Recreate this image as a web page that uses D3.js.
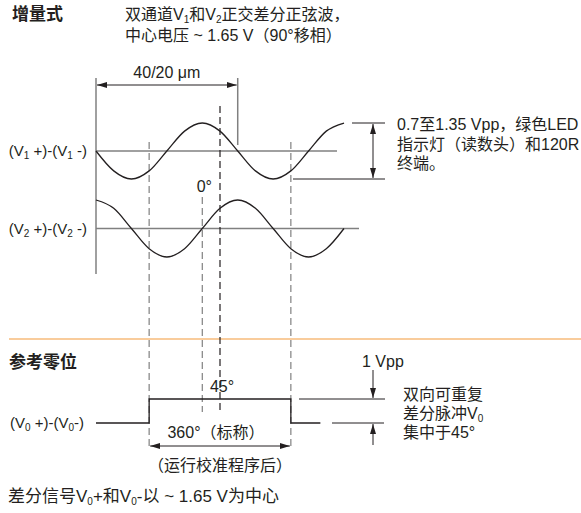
<!DOCTYPE html>
<html>
<head>
<meta charset="utf-8">
<script src="https://cdn.jsdelivr.net/npm/d3@7"></script>
<style>
    body { margin: 0; background: #fff; }
    text { font-family: "Liberation Sans", "Noto Sans CJK SC", sans-serif; fill: #231f20; }
    .heading { font-weight: bold; font-size: 17px; }
    .body { font-size: 16px; }
    .label { font-size: 15px; }
    .foot { font-size: 17px; }
</style>
</head>
<body>
<div id="chart-area"></div>
<script>

const phaseDeg = [-270, -225, -180, -135, -90, -45, 0, 45, 90, 135, 180, 225, 270, 315, 360];
const v1Values = [0, -0.71, -1, -0.71, 0, 0.71, 1, 0.71, 0, -0.71, -1, -0.71, 0, 0.71, 1];
const v2Values = [1, 0.71, 0, -0.71, -1, -0.71, 0, 0.71, 1, 0.71, 0, -0.71, -1, -0.71, 0];

// reference pulse V0 (step after each phase)
const pulseDeg = [-270, -135, 225, 300];
const pulseLevel = [0, 1, 0, 0];

// dashed guide lines
const markerDeg = [-135, 0, 45, 225];
const markerLabels = ["", "0°", "45°", ""];

// dimension spans
const periodSpan = [-270, 90];
const periodLabel = "40/20 μm";
const pulseSpan = [-135, 225];
const pulseSpanLabel = "360°（标称）";

const headings = ["增量式", "参考零位"];
const introLines = [
    [{t: "双通道V"}, {t: "1", sub: true}, {t: "和V"}, {t: "2", sub: true}, {t: "正交差分正弦波，"}],
    [{t: "中心电压 ~ 1.65 V（90°移相）"}]
];
const signalLabels = [
    [{t: "(V"}, {t: "1", sub: true}, {t: " +)-(V"}, {t: "1", sub: true}, {t: " -)"}],
    [{t: "(V"}, {t: "2", sub: true}, {t: " +)-(V"}, {t: "2", sub: true}, {t: " -)"}],
    [{t: "(V"}, {t: "0", sub: true}, {t: " +)-(V"}, {t: "0", sub: true}, {t: "-)"}]
];
const ampNote = ["0.7至1.35 Vpp，绿色LED", "指示灯（读数头）和120R", "终端。"];
const pulseAmpLabel = "1 Vpp";
const pulseNote = [
    [{t: "双向可重复"}],
    [{t: "差分脉冲V"}, {t: "0", sub: true}],
    [{t: "集中于45°"}]
];
const calibNote = "（运行校准程序后）";
const footNote = [{t: "差分信号V"}, {t: "0", sub: true}, {t: "+和V"}, {t: "0", sub: true}, {t: "-以 ~ 1.65 V为中心"}];


class EncoderDiagram {

    constructor(_parentElement) {
        this.parentElement = _parentElement;
        this.initVis();
    }

    initVis() {
        let vis = this;

        vis.width = 581;
        vis.height = 513;

        vis.svg = d3.select("#" + vis.parentElement).append("svg")
            .attr("width", vis.width)
            .attr("height", vis.height);

        let defs = vis.svg.append("defs");
        defs.append("marker")
            .attr("id", "arrow")
            .attr("viewBox", "0 0 10 6")
            .attr("refX", 10).attr("refY", 3)
            .attr("markerWidth", 10).attr("markerHeight", 6)
            .attr("markerUnits", "userSpaceOnUse")
            .attr("orient", "auto-start-reverse")
            .append("path")
            .attr("d", "M0,0 L10,3 L0,6 Z")
            .attr("fill", "#231f20");

        // Scales
        vis.x = d3.scaleLinear().domain([-270, 360]).range([96, 344]);
        vis.yV1 = d3.scaleLinear().domain([-1, 1]).range([179, 123]);
        vis.yV2 = d3.scaleLinear().domain([-1, 1]).range([257, 200]);
        vis.yV0 = d3.scaleLinear().domain([0, 1]).range([423, 399]);

        vis.updateVis();
    }

    line(x1, y1, x2, y2, color, width, dash) {
        let l = this.svg.append("line")
            .attr("x1", x1).attr("y1", y1)
            .attr("x2", x2).attr("y2", y2)
            .attr("stroke", color)
            .attr("stroke-width", width);
        if (dash) l.attr("stroke-dasharray", dash);
        return l;
    }

    richText(parts, x, y, cls, anchor) {
        let t = this.svg.append("text")
            .attr("class", cls)
            .attr("x", x).attr("y", y)
            .attr("text-anchor", anchor || "start");
        let shifted = false;
        parts.forEach(p => {
            if (p.sub) {
                t.append("tspan").attr("dy", 3).style("font-size", "10px").text(p.t);
                shifted = true;
            } else {
                let s = t.append("tspan").text(p.t);
                if (shifted) { s.attr("dy", -3); shifted = false; }
            }
        });
        return t;
    }

    updateVis() {
        let vis = this;
        let x = vis.x;
        const gray = "#808080", ink = "#231f20";

        // section divider
        vis.line(9, 339, 581, 339, "#f39a3a", 1.2);

        // headings and intro
        vis.svg.append("text").attr("class", "heading").attr("x", 12).attr("y", 20).text(headings[0]);
        vis.svg.append("text").attr("class", "heading").attr("x", 9).attr("y", 368).text(headings[1]);
        introLines.forEach((ln, i) => vis.richText(ln, 125, 20 + i * 21, "body"));

        // left axis and zero lines
        vis.line(x(-270), 78, x(-270), 274, gray, 1.5);
        vis.line(x(-270), vis.yV1(0), 337, vis.yV1(0), gray, 1.5);
        vis.line(x(-270), vis.yV2(0), 359, vis.yV2(0), gray, 1.5);

        // dashed markers
        let markerTop = [142, 197, 106, 142];
        let markerBottom = [450, 412, 412, 450];
        markerDeg.forEach((d, i) => {
            vis.line(x(d), markerTop[i], x(d), markerBottom[i], d === 45 ? ink : gray, 1.2, "7,4");
        });
        vis.svg.append("text").attr("class", "body").attr("x", x(markerDeg[1]) + 2).attr("y", 192)
            .attr("text-anchor", "middle").text(markerLabels[1]);
        vis.svg.append("text").attr("class", "body").attr("x", x(markerDeg[2]) + 2).attr("y", 392)
            .attr("text-anchor", "middle").text(markerLabels[2]);

        // period dimension
        vis.line(x(periodSpan[1]), 78, x(periodSpan[1]), vis.yV1(0) - 6, gray, 1.5);
        vis.line(x(periodSpan[0]) + 1, 85, x(periodSpan[1]) - 1, 85, ink, 1)
            .attr("marker-start", "url(#arrow)").attr("marker-end", "url(#arrow)");
        vis.svg.append("text").attr("class", "body")
            .attr("x", (x(periodSpan[0]) + x(periodSpan[1])) / 2).attr("y", 78)
            .attr("text-anchor", "middle").text(periodLabel);

        // sine waves
        let waveData = phaseDeg.map((d, i) => ({deg: d, v1: v1Values[i], v2: v2Values[i]}));
        let wave1 = d3.line().x(d => x(d.deg)).y(d => vis.yV1(d.v1)).curve(d3.curveMonotoneX);
        let wave2 = d3.line().x(d => x(d.deg)).y(d => vis.yV2(d.v2)).curve(d3.curveMonotoneX);
        vis.svg.append("path").datum(waveData).attr("d", wave1)
            .attr("fill", "none").attr("stroke", ink).attr("stroke-width", 1.3);
        vis.svg.append("path").datum(waveData).attr("d", wave2)
            .attr("fill", "none").attr("stroke", ink).attr("stroke-width", 1.3);

        vis.richText(signalLabels[0], 87, vis.yV1(0) + 5, "label", "end");
        vis.richText(signalLabels[1], 87, vis.yV2(0) + 5, "label", "end");

        // amplitude dimension for V1
        vis.line(352, vis.yV1(1), 385, vis.yV1(1), ink, 1);
        vis.line(293, vis.yV1(-1), 385, vis.yV1(-1), ink, 1);
        vis.line(373, vis.yV1(1) + 1, 373, vis.yV1(-1) - 1, ink, 1)
            .attr("marker-start", "url(#arrow)").attr("marker-end", "url(#arrow)");
        ampNote.forEach((s, i) => {
            vis.svg.append("text").attr("class", "body").attr("x", 397).attr("y", 130 + i * 19.5).text(s);
        });

        // reference pulse
        let pulseData = pulseDeg.map((d, i) => ({deg: d, lvl: pulseLevel[i]}));
        let pulseLine = d3.line().x(d => x(d.deg)).y(d => vis.yV0(d.lvl)).curve(d3.curveStepAfter);
        vis.svg.append("path").datum(pulseData).attr("d", pulseLine)
            .attr("fill", "none").attr("stroke", ink).attr("stroke-width", 1.3);
        vis.richText(signalLabels[2], 84, vis.yV0(0) + 5, "label", "end");

        // 1 Vpp dimension
        vis.line(299, vis.yV0(1), 385, vis.yV0(1), ink, 1);
        vis.line(332, vis.yV0(0), 384, vis.yV0(0), ink, 1);
        vis.line(373, 370, 373, vis.yV0(1) - 1, ink, 1).attr("marker-end", "url(#arrow)");
        vis.line(373, 445, 373, vis.yV0(0) + 1, ink, 1).attr("marker-end", "url(#arrow)");
        vis.svg.append("text").attr("class", "body").attr("x", 362).attr("y", 367).text(pulseAmpLabel);
        pulseNote.forEach((ln, i) => vis.richText(ln, 403, 400 + i * 19, "body"));

        // 360° dimension
        vis.line(x(pulseSpan[0]) + 1, 446, x(pulseSpan[1]) - 1, 446, ink, 1)
            .attr("marker-start", "url(#arrow)").attr("marker-end", "url(#arrow)");
        vis.svg.append("text").attr("class", "body").attr("x", 216).attr("y", 438)
            .attr("text-anchor", "middle").text(pulseSpanLabel);
        vis.svg.append("text").attr("class", "body").attr("x", 220).attr("y", 471)
            .attr("text-anchor", "middle").text(calibNote);

        // footnote
        vis.richText(footNote, 8, 502, "foot");
    }
}

new EncoderDiagram("chart-area");

</script>
</body>
</html>
